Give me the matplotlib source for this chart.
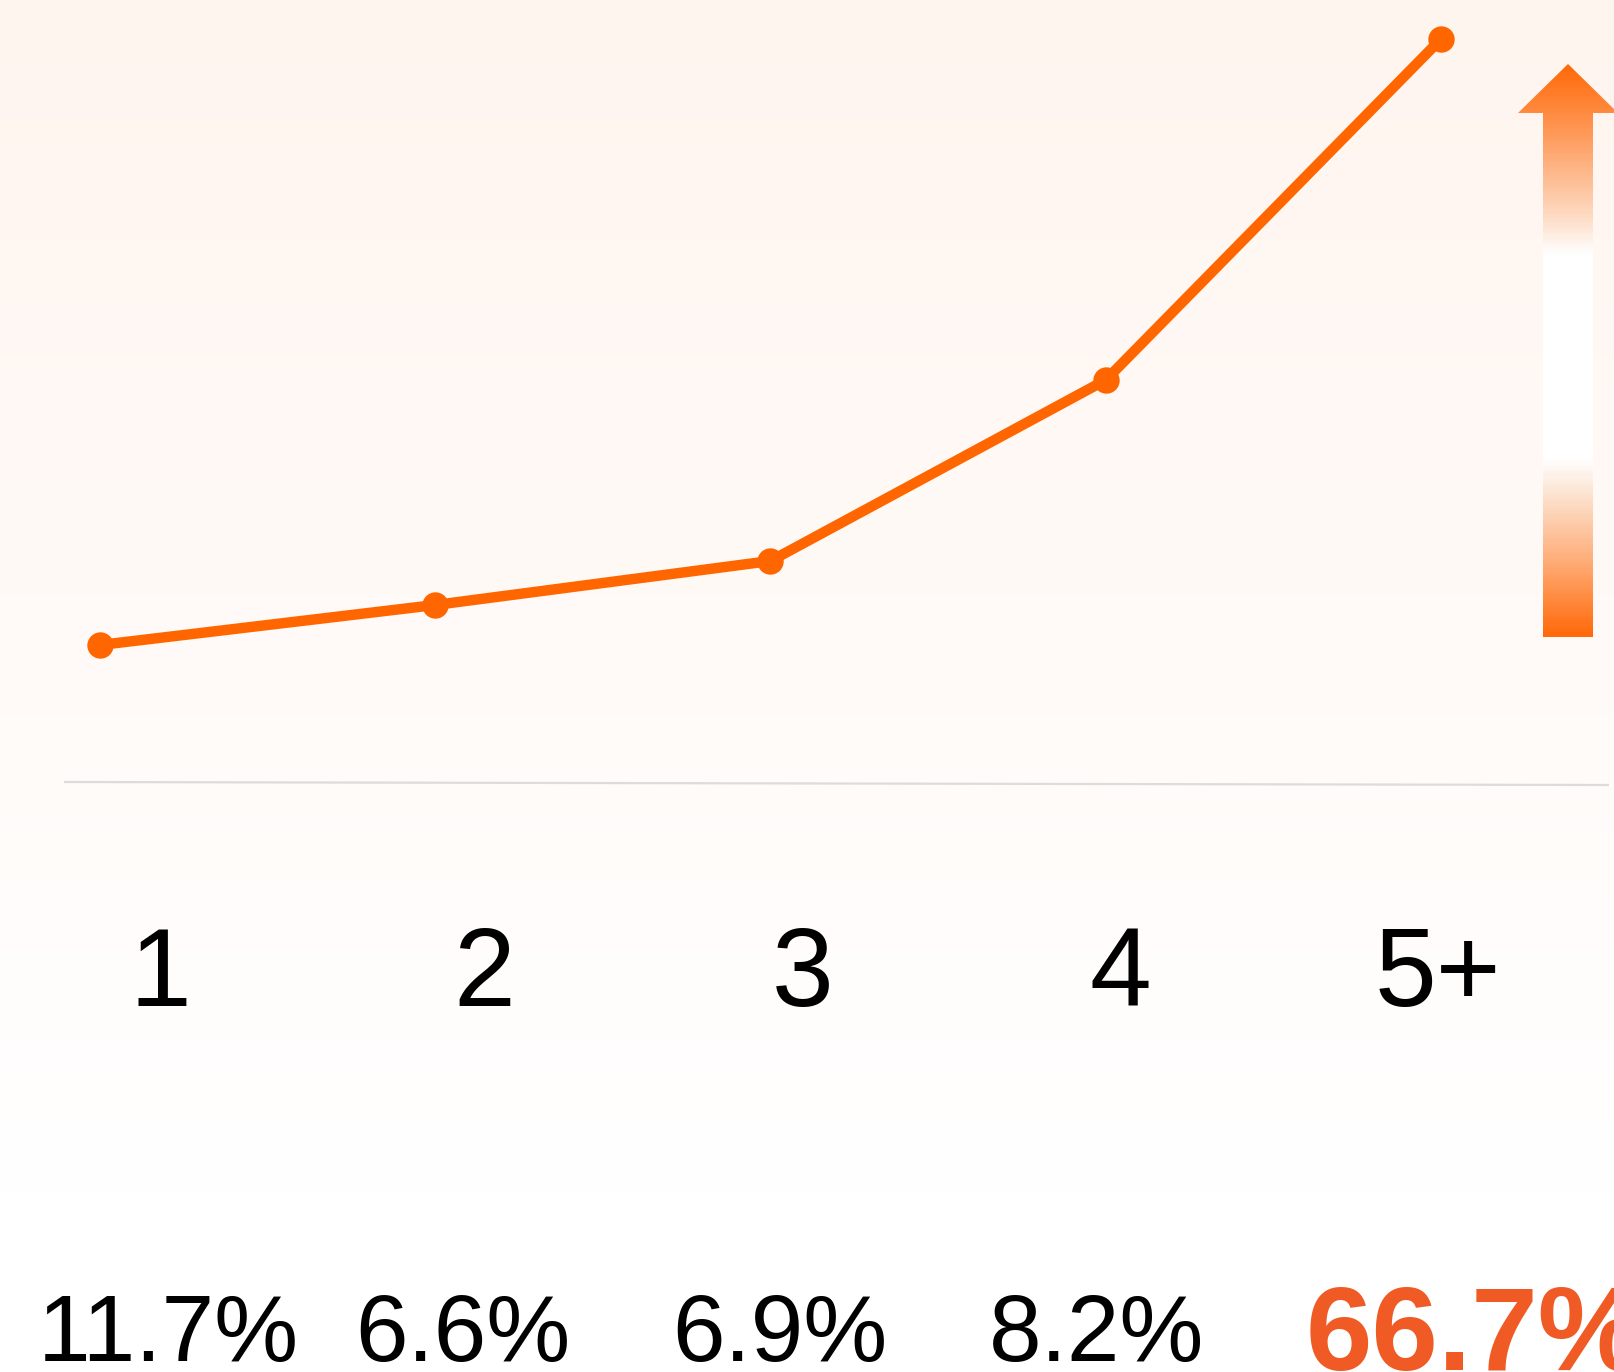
import numpy as np
import matplotlib
matplotlib.use('Agg')
import matplotlib.pyplot as plt
from matplotlib.patches import Polygon
from matplotlib.colors import LinearSegmentedColormap

# Data
positions = ['1', '2', '3', '4', '5+']
trend = [13.7, 17.7, 22.1, 40.2, 74.3]
shares = ['11.7%', '6.6%', '6.9%', '8.2%', '66.7%']

W, H = 1614, 1372
DPI = 100
ORANGE = '#FF6600'
HIGHLIGHT = '#F05A24'

plt.rcParams['font.family'] = ['Liberation Sans', 'DejaVu Sans']

fig = plt.figure(figsize=(W / DPI, H / DPI), dpi=DPI)

# Background gradient (pixel space overlay)
bg = fig.add_axes([0, 0, 1, 1], zorder=0)
bg.set_xlim(0, W)
bg.set_ylim(H, 0)
bg.axis('off')
rows = np.linspace(0, H, 400)
t = np.clip(rows / 1190.0, 0, 1)
top = np.array([255, 245, 239]) / 255
grad = top[None, :] * (1 - t[:, None]) + np.ones(3)[None, :] * t[:, None]
bg.imshow(grad[:, None, :], extent=[0, W, H, 0], aspect='auto', interpolation='bilinear')

# Separator line
bg.plot([64, 1609], [782, 785], color='#DCDCDC', lw=1.6, solid_capstyle='butt')

# Gradient arrow
arrow_pts = [(1543, 637), (1543, 113), (1518, 113), (1568, 64),
             (1618, 113), (1593, 113), (1593, 637)]
arrow = Polygon(arrow_pts, closed=True, facecolor='none', edgecolor='none')
bg.add_patch(arrow)
acmap = LinearSegmentedColormap.from_list('arr', [
    (0.0, '#FF6A0A'), (0.12, '#FF9A5A'), (0.26, '#FDD9C0'), (0.33, '#FFFFFF'),
    (0.69, '#FFFFFF'), (0.76, '#FCE0CC'), (0.88, '#FFA870'), (1.0, '#FF6A0A')])
ay = np.linspace(0, 1, 300)[:, None]
img = bg.imshow(ay, cmap=acmap, extent=[1510, 1620, 637, 64], aspect='auto',
                interpolation='bilinear', zorder=2)
img.set_clip_path(arrow)
bg.set_xlim(0, W)
bg.set_ylim(H, 0)

# Line chart
ax = fig.add_axes([0, 0, 1, 1], zorder=1)
ax.patch.set_alpha(0)
step = (1441 - 100) / 4
ax.set_xlim(-100 / step, (W - 100) / step)
ax.set_ylim(-59.0, 78.2)
ax.axis('off')
x = np.arange(len(positions))
ax.plot(x, trend, color=ORANGE, lw=7.5, marker='o', markersize=19,
        markeredgewidth=0, solid_capstyle='round', clip_on=False)

# Category labels
cat_x = [160, 484, 803, 1120, 1438]
for cx, lab in zip(cat_x, positions):
    fig.text(cx / W, 1 - 1006 / H, lab, ha='center', va='baseline',
             fontsize=80, color='black')

# Share labels
for i, s in enumerate(shares):
    left = 38 + i * 317
    if i == len(shares) - 1:
        fig.text(left / W, 1 - 1370 / H, s, ha='left', va='baseline',
                 fontsize=86, fontweight='bold', color=HIGHLIGHT)
    else:
        fig.text(left / W, 1 - 1361 / H, s, ha='left', va='baseline',
                 fontsize=68, color='black')

fig.savefig('out.png', dpi=DPI)
